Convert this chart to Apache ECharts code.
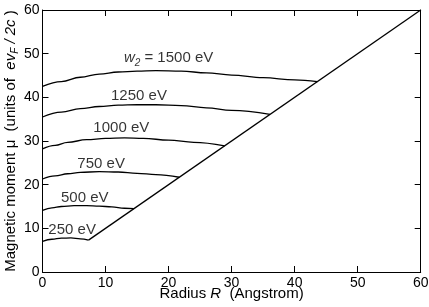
<!DOCTYPE html>
<html>
<head>
<meta charset="utf-8">
<script src="https://cdn.jsdelivr.net/npm/echarts@6/dist/echarts.min.js"></script>
<style>
html,body{margin:0;padding:0;background:#fff;}
#chart{width:429px;height:307px;}
</style>
</head>
<body>
<div id="chart"></div>
<script>
// ---- data (R in Angstrom, mu in units of e v_F / 2c) ----
const xTicks = [0, 10, 20, 30, 40, 50, 60];
const yTicks = [0, 10, 20, 30, 40, 50, 60];
const curve250  = [[0,7.0],[1.5,7.5],[3,7.75],[4.5,7.8],[6,7.6],[7.3,7.3]];
const curve500  = [[0,14.1],[1.5,14.7],[3,15.0],[5,15.2],[7,15.2],[9,15.1],[11,14.9],[13,14.6],[14.5,14.5]];
const curve750  = [[0,21.3],[2,22.0],[4,22.5],[6,22.8],[9,23.0],[12,22.9],[15,22.6],[18,22.3],[21.7,21.7]];
const curve1000 = [[0,28.2],[2,29.0],[4,29.7],[7,30.3],[10,30.6],[13,30.7],[16,30.6],[20,30.2],[24,29.7],[28.9,28.9]];
const curve1250 = [[0,35.5],[3,36.6],[6,37.4],[9,37.9],[12,38.2],[15,38.3],[18,38.3],[22,38.1],[26,37.6],[30,37.0],[36.1,36.1]];
const curve1500 = [[0,42.5],[3,43.6],[6,44.6],[9,45.3],[12,45.8],[15,46.0],[18,46.1],[22,46.0],[26,45.6],[30,45.1],[35,44.5],[40,44.0],[43.6,43.6]];
const limitLine = [[7.3,7.3],[60,60]];
const curveNames = ['250 eV','500 eV','750 eV','1000 eV','1250 eV','1500 eV'];
const labelAnchors = [[4.7,9.7],[6.7,17.0],[9.3,24.8],[12.5,33.0],[15.3,40.3],[20.0,49.0]];

const FONT = '"Liberation Sans", Arial, Helvetica, sans-serif';
const curves = [curve250, curve500, curve750, curve1000, curve1250, curve1500];

const lineSeries = curves.map((c, i) => ({
  name: curveNames[i], type: 'line', data: c, smooth: 0.4, smoothMonotone: 'x',
  showSymbol: false, symbol: 'none', lineStyle: {color: '#000', width: 1.3},
  silent: true, z: 3
}));
lineSeries.push({
  name: 'limit', type: 'line', data: limitLine, showSymbol: false, symbol: 'none',
  lineStyle: {color: '#000', width: 1.3}, silent: true, z: 3
});

const labelSeries = {
  type: 'scatter', symbolSize: 0, silent: true, z: 5,
  data: labelAnchors.map((p, i) => ({value: p, name: curveNames[i]})),
  label: {
    show: true, position: 'inside', color: '#000', fontFamily: FONT, fontSize: 15,
    formatter: function (p) {
      if (p.dataIndex === 5) return '{w|w}{s|2}{n| = ' + p.name + '}';
      return '{n|' + p.name + '}';
    },
    rich: {
      n: {fontSize: 15, fontFamily: FONT, color: '#000', lineHeight: 20},
      w: {fontSize: 15, fontFamily: FONT, fontStyle: 'italic', color: '#000', lineHeight: 20},
      s: {fontSize: 10, fontFamily: FONT, fontStyle: 'italic', color: '#000', verticalAlign: 'bottom'}
    }
  }
};

const axisCommon = {
  type: 'value', min: 0, max: 60, interval: 10,
  axisLine: {show: true, onZero: false, lineStyle: {color: '#000', width: 1}},
  axisTick: {show: true, inside: true, length: 6, lineStyle: {color: '#000', width: 1}},
  splitLine: {show: false}
};

const chart = echarts.init(document.getElementById('chart'), null, {renderer: 'canvas'});
chart.setOption({
  backgroundColor: '#fff',
  animation: false,
  grid: {left: 42.5, right: 8.3, top: 10, bottom: 35, containLabel: false, outerBoundsMode: 'none'},
  xAxis: [
    Object.assign({}, axisCommon, {
      position: 'bottom',
      axisLabel: {color: '#000', fontFamily: FONT, fontSize: 14, margin: 4,
        formatter: v => xTicks.includes(v) ? String(v) : ''},
      name: '{a|Radius }{i|R}{a|  (Angstrom)}',
      nameLocation: 'middle', nameGap: 14, nameMoveOverlap: false,
      nameTextStyle: {
        fontFamily: FONT, fontSize: 15, color: '#000',
        rich: {
          a: {fontFamily: FONT, fontSize: 15, color: '#000'},
          i: {fontFamily: FONT, fontSize: 15, color: '#000', fontStyle: 'italic'}
        }
      }
    }),
    Object.assign({}, axisCommon, {position: 'top', axisLabel: {show: false}})
  ],
  yAxis: [
    Object.assign({}, axisCommon, {
      position: 'left',
      axisLabel: {color: '#000', fontFamily: FONT, fontSize: 14, margin: 3,
        formatter: v => yTicks.includes(v) ? String(v) : ''},
      name: '{a|Magnetic moment μ  (units of  }{i|ev}{s|F}{i| / 2c}{a| )}',
      nameLocation: 'middle', nameGap: 22, nameRotate: 90, nameMoveOverlap: false,
      nameTextStyle: {
        fontFamily: FONT, fontSize: 15, color: '#000',
        rich: {
          a: {fontFamily: FONT, fontSize: 15, color: '#000', lineHeight: 20},
          i: {fontFamily: FONT, fontSize: 15, color: '#000', fontStyle: 'italic', lineHeight: 20},
          s: {fontFamily: FONT, fontSize: 10, color: '#000', fontStyle: 'italic', verticalAlign: 'bottom'}
        }
      }
    }),
    Object.assign({}, axisCommon, {position: 'right', axisLabel: {show: false}})
  ],
  series: lineSeries.concat([labelSeries])
});
</script>
</body>
</html>
